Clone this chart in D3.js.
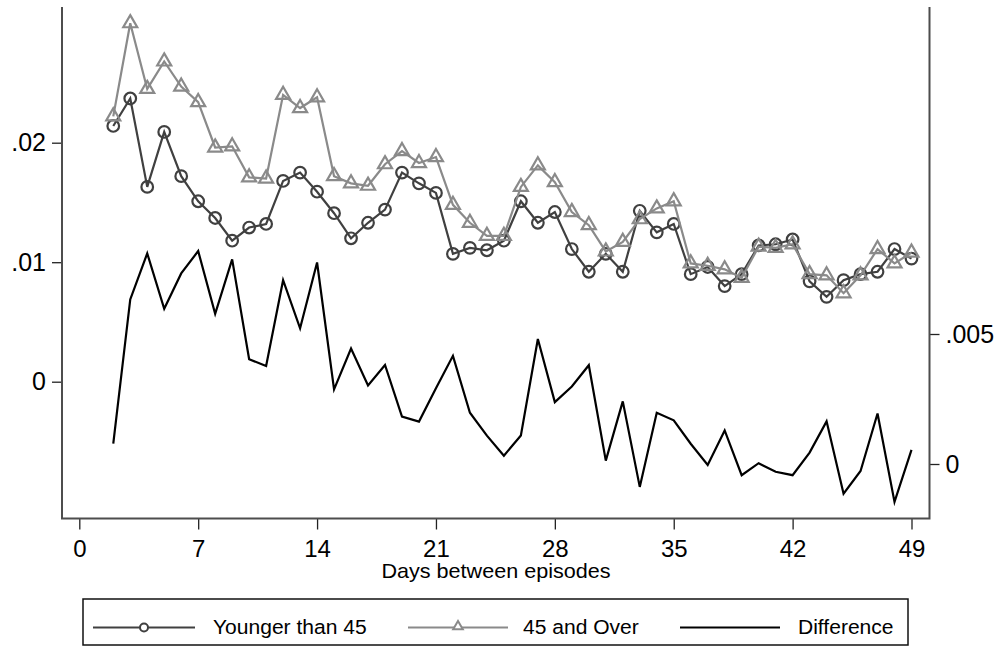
<!DOCTYPE html>
<html>
<head>
<meta charset="utf-8">
<script src="https://cdn.jsdelivr.net/npm/d3@7"></script>
<style>
  html, body { margin: 0; padding: 0; background: #fff; }
  svg { display: block; }
  text { font-family: "Liberation Sans", Arial, Helvetica, sans-serif; fill: #000; }
</style>
</head>
<body>
<svg id="chart" width="1002" height="648"></svg>
<script>
// ---- data ----
const days = [2,3,4,5,6,7,8,9,10,11,12,13,14,15,16,17,18,19,20,21,22,23,24,25,
              26,27,28,29,30,31,32,33,34,35,36,37,38,39,40,41,42,43,44,45,46,47,48,49];
const younger = [0.0214,0.0237,0.0163,0.0209,0.0172,0.0151,0.0137,0.0118,0.0129,0.0132,0.0168,0.0175,0.0159,0.0141,0.0120,
                 0.0133,0.0144,0.0175,0.0166,0.0158,0.0107,0.0112,0.0110,0.0118,0.0151,0.0133,0.0142,0.0111,0.0092,0.0107,0.0092,0.0143,
                 0.0125,0.0132,0.0090,0.0096,0.0080,0.0090,0.0114,0.0115,0.0119,0.0084,0.0071,0.0085,0.0090,0.0092,0.0111,0.0103];
const older = [0.0222,0.0300,0.0245,0.0268,0.0247,0.0234,0.0196,0.0197,0.0171,0.0170,0.0240,0.0229,0.0238,0.0172,0.0166,
               0.0164,0.0182,0.0193,0.0183,0.0188,0.0148,0.0133,0.0122,0.0122,0.0163,0.0181,0.0167,0.0142,0.0131,0.0109,0.0117,0.0136,
               0.0145,0.0151,0.0099,0.0097,0.0094,0.0087,0.0113,0.0112,0.0115,0.0090,0.0089,0.0074,0.0089,0.0111,0.0099,0.0108];
const difference = [0.00078,0.00633,0.00810,0.00597,0.00733,0.00819,0.00578,0.00787,0.00403,0.00377,0.00707,0.00522,0.00775,0.00287,0.00444,
                    0.00302,0.00381,0.00182,0.00163,0.00291,0.00416,0.00197,0.00109,0.00032,0.00110,0.00481,0.00238,0.00298,0.00380,0.00013,0.00241,-0.00088,
                    0.00197,0.00168,0.00078,-0.00004,0.00129,-0.00043,0.00003,-0.00030,-0.00043,0.00044,0.00164,-0.00114,-0.00027,0.00194,-0.00146,0.00054];
const xTicks = [0,7,14,21,28,35,42,49];
const yLeftTicks = [0, 0.01, 0.02];
const yLeftLabels = ["0", ".01", ".02"];
const yRightTicks = [0, 0.005];
const yRightLabels = ["0", ".005"];
const legendLabels = ["Younger than 45", "45 and Over", "Difference"];
const xTitle = "Days between episodes";

// ---- layout ----
const svg = d3.select("#chart");
const plot = {left: 62, right: 929.5, top: 7, bottom: 518.5};

const x = d3.scaleLinear().domain([0, 49]).range([79.3, 911.5]);
const yL = d3.scaleLinear().domain([0, 0.02]).range([381.7, 142.7]);
const yR = d3.scaleLinear().domain([0, 0.005]).range([464, 334]);

const axisColor = "#4d4d4d";
const cYoung = "#404040";
const cOld = "#8a8a8a";
const cDiff = "#000000";

// axes
const gx = svg.append("g").attr("transform", `translate(0,${plot.bottom})`)
  .call(d3.axisBottom(x).tickValues(xTicks).tickSize(11).tickPadding(12).tickSizeOuter(0));
gx.select(".domain").remove();
gx.selectAll(".tick line").attr("stroke", "#222").attr("stroke-width", 1.3);
gx.selectAll(".tick text").attr("font-size", 24).attr("dy", "0.65em").attr("transform", "translate(0,0)");

const gyl = svg.append("g").attr("transform", `translate(${plot.left},0)`)
  .call(d3.axisLeft(yL).tickValues(yLeftTicks).tickFormat((d,i)=>yLeftLabels[i]).tickSize(10).tickPadding(6).tickSizeOuter(0));
gyl.select(".domain").remove();
gyl.selectAll(".tick line").attr("stroke", "#222").attr("stroke-width", 1.3);
gyl.selectAll(".tick text").attr("font-size", 25);

const gyr = svg.append("g").attr("transform", `translate(${plot.right},0)`)
  .call(d3.axisRight(yR).tickValues(yRightTicks).tickFormat((d,i)=>yRightLabels[i]).tickSize(10).tickPadding(6).tickSizeOuter(0));
gyr.select(".domain").remove();
gyr.selectAll(".tick line").attr("stroke", "#222").attr("stroke-width", 1.3);
gyr.selectAll(".tick text").attr("font-size", 25);

// frame (left, bottom, right)
svg.append("path")
  .attr("d", `M${plot.left},${plot.top} V${plot.bottom} H${plot.right} V${plot.top}`)
  .attr("fill", "none").attr("stroke", axisColor).attr("stroke-width", 2);

// x title
svg.append("text").attr("x", 496).attr("y", 578).attr("text-anchor", "middle")
  .attr("font-size", 20).attr("transform", "translate(496,0) scale(1.08,1) translate(-496,0)").text(xTitle);

// series
const idx = d3.range(days.length);
const lineY = d3.line().x(i => x(days[i])).y(i => yL(younger[i]));
const lineO = d3.line().x(i => x(days[i])).y(i => yL(older[i]));
const lineD = d3.line().x(i => x(days[i])).y(i => yR(difference[i]));

svg.append("path").attr("d", lineY(idx)).attr("fill", "none").attr("stroke", cYoung).attr("stroke-width", 2.2);
svg.append("g").selectAll("circle").data(idx).join("circle")
  .attr("cx", i => x(days[i])).attr("cy", i => yL(younger[i])).attr("r", 5.8)
  .attr("fill", "none").attr("stroke", cYoung).attr("stroke-width", 2.2);

const tri = d3.symbol().type(d3.symbolTriangle).size(85);
svg.append("path").attr("d", lineO(idx)).attr("fill", "none").attr("stroke", cOld).attr("stroke-width", 2.2);
svg.append("g").selectAll("path").data(idx).join("path")
  .attr("d", tri())
  .attr("transform", i => `translate(${x(days[i])},${yL(older[i])})`)
  .attr("fill", "none").attr("stroke", cOld).attr("stroke-width", 2.2);

svg.append("path").attr("d", lineD(idx)).attr("fill", "none").attr("stroke", cDiff).attr("stroke-width", 2.2)
  .attr("stroke-linejoin", "miter");

// legend
const lg = svg.append("g");
lg.append("rect").attr("x", 83).attr("y", 599).attr("width", 825).attr("height", 46)
  .attr("fill", "#fff").attr("stroke", "#111").attr("stroke-width", 1.5);
const ly = 627.5;
const items = [
  {x0: 93, x1: 195, tx: 213, color: cYoung, marker: "circle"},
  {x0: 408, x1: 508, tx: 523, color: cOld, marker: "triangle"},
  {x0: 680, x1: 780, tx: 798, color: cDiff, marker: "none"}
];
items.forEach((it, k) => {
  lg.append("line").attr("x1", it.x0).attr("x2", it.x1).attr("y1", ly).attr("y2", ly)
    .attr("stroke", it.color).attr("stroke-width", 2.2);
  const mx = (it.x0 + it.x1) / 2;
  if (it.marker === "circle") {
    lg.append("circle").attr("cx", mx).attr("cy", ly).attr("r", 4).attr("fill", "#fff")
      .attr("stroke", it.color).attr("stroke-width", 2);
  } else if (it.marker === "triangle") {
    lg.append("path").attr("d", d3.symbol().type(d3.symbolTriangle).size(40)())
      .attr("transform", `translate(${mx},${ly - 1})`).attr("fill", "#fff")
      .attr("stroke", it.color).attr("stroke-width", 2);
  }
  lg.append("text").attr("x", it.tx).attr("y", 634).attr("font-size", 19.5)
    .attr("transform", `translate(${it.tx},0) scale(1.08,1) translate(${-it.tx},0)`)
    .text(legendLabels[k]);
});
</script>
</body>
</html>
